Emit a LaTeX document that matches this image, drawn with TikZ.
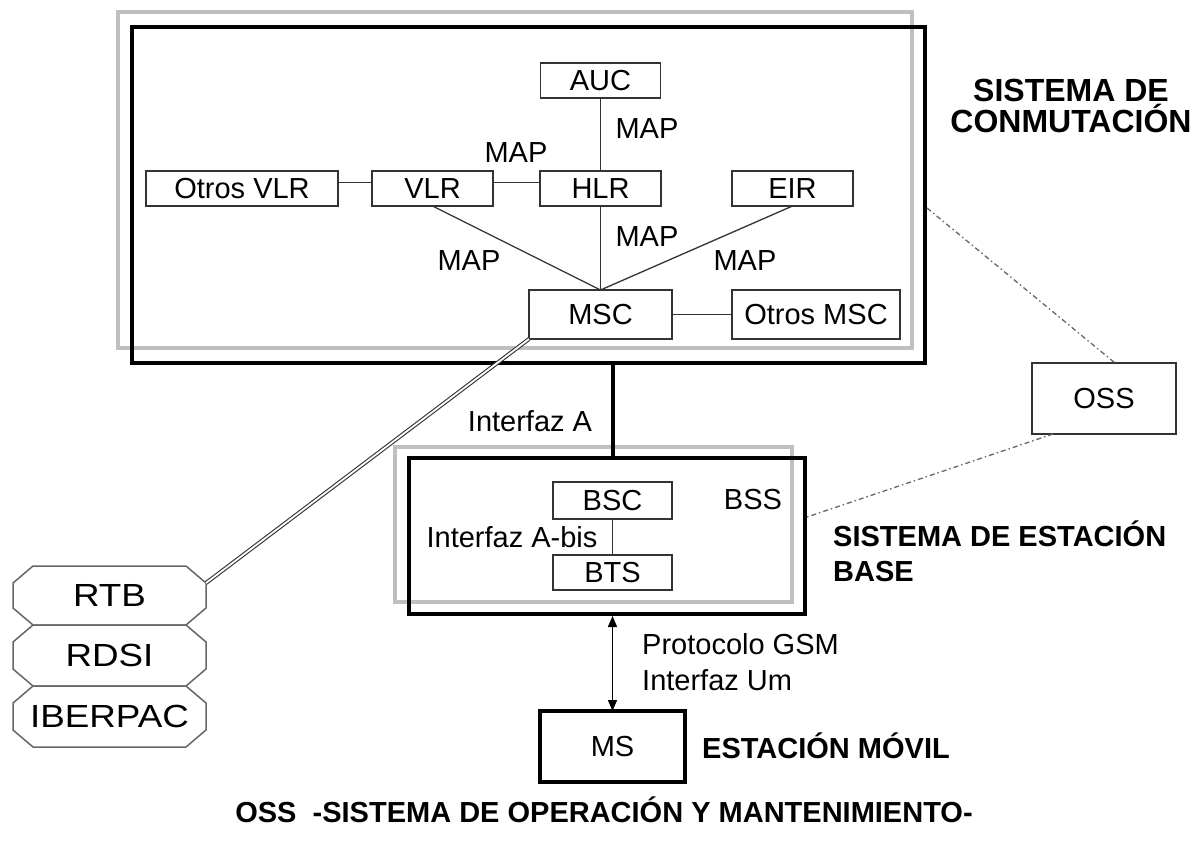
\documentclass[tikz,border=0pt]{standalone}
\usepackage{graphicx}
\usepackage{fontspec}
\setmainfont{Liberation Sans}
\usetikzlibrary{calc,positioning,arrows.meta}
\tikzset{
  unit/.style={draw=black!80, fill=white, line width=1.3pt, inner sep=0pt, outer sep=0pt, font=\fontsize{29}{34}\selectfont},
  link/.style={draw=black!80, line width=1.3pt},
  lbl/.style={inner sep=0pt, font=\fontsize{29}{34}\selectfont},
  ttl/.style={inner sep=0pt, font=\fontsize{29}{35}\selectfont\bfseries},
  grayframe/.style={draw=black!25, line width=4pt, inner sep=0pt, outer sep=0pt},
  blackframe/.style={draw=black, line width=4pt, inner sep=0pt},
  net/.style={inner sep=0pt, outer sep=0pt, font=\fontsize{32}{36}\selectfont},
  octo/.style={draw=black!60, line width=1.5pt, line join=round},
  oam/.style={draw=black!60, line width=1.3pt, dash pattern=on 5pt off 3pt on 1.5pt off 3pt},
  dline/.style={draw=black!80, double=white, line width=1.1pt, double distance=1.8pt},
  trunk/.style={draw=black, line width=4pt},
  radio/.style={line width=1.4pt, {Triangle[length=11pt,width=9pt]}-{Triangle[length=11pt,width=9pt]}}
}
\begin{document}
\begin{tikzpicture}[x=1pt,y=-1pt]
  \useasboundingbox (0,0) rectangle (1201,842);
  \node[grayframe, minimum width=794pt, minimum height=336pt] (conmg) at (515,180) {};
  \node[blackframe, minimum width=793pt, minimum height=336pt] (conm) at (528.5,195) {};
  \node[grayframe, minimum width=397pt, minimum height=155pt] (bssg) at (593.5,524.5) {};
  \node[blackframe, minimum width=396pt, minimum height=156pt] (bssf) at (607,536) {};

  \node[unit, minimum width=120pt, minimum height=35pt] (AUC) at (600.5,80.5) {AUC};
  \node[unit, minimum width=121pt, minimum height=35pt] (HLR) at (600.5,188.5) {HLR};
  \node[unit, minimum width=121pt, minimum height=35pt] (VLR) at (432.5,188.5) {VLR};
  \node[unit, minimum width=192pt, minimum height=35pt] (otrosvlr) at (242,188.5) {Otros VLR};
  \node[unit, minimum width=121pt, minimum height=35pt] (EIR) at (792.5,188.5) {EIR};
  \node[unit, minimum width=143pt, minimum height=49pt] (MSC) at (600.5,314.5) {MSC};
  \node[unit, minimum width=168pt, minimum height=49pt] (otrosmsc) at (816,314.5) {Otros MSC};
  \node[unit, minimum width=144pt, minimum height=71pt] (OSS) at (1104,398.5) {OSS};
  \node[unit, minimum width=119pt, minimum height=37pt] (BSC) at (612.5,500.5) {BSC};
  \node[unit, minimum width=119pt, minimum height=35pt] (BTS) at (612.5,572.5) {BTS};
  \node[unit, draw=black, line width=4pt, minimum width=145pt, minimum height=71pt] (MS) at (612.5,746.5) {MS};

  \node[net, minimum width=193pt, minimum height=59pt] (rtb) at (109.5,595.5) {\scalebox{1.15}[1]{RTB}};
  \node[net, minimum width=193pt, minimum height=61pt] (rdsi) at (109.5,655.5) {\scalebox{1.15}[1]{RDSI}};
  \node[net, minimum width=193pt, minimum height=61pt] (iber) at (109.5,716.5) {\scalebox{1.15}[1]{IBERPAC}};
  \foreach \n in {rtb,rdsi,iber}
    \draw[octo] ($(\n.north west)+(20,0)$) -- ($(\n.north east)+(-20,0)$) -- ($(\n.north east)+(0,17)$)
      -- ($(\n.south east)+(0,-17)$) -- ($(\n.south east)+(-20,0)$) -- ($(\n.south west)+(20,0)$)
      -- ($(\n.south west)+(0,-17)$) -- ($(\n.north west)+(0,17)$) -- cycle;

  \draw[link] (AUC.south) -- (HLR.north);
  \draw[link] ([yshift=6pt]otrosvlr.east) -- ([yshift=6pt]VLR.west);
  \draw[link] ([yshift=6pt]VLR.east) -- ([yshift=6pt]HLR.west);
  \draw[link] (VLR.south) -- (MSC.north);
  \draw[link] (HLR.south) -- (MSC.north);
  \draw[link] (EIR.south) -- (MSC.north);
  \draw[link] (MSC.east) -- (otrosmsc.west);
  \draw[link] (BSC.south) -- (BTS.north);
  \draw[trunk] (conm.south -| BSC) -- (bssf.north -| BSC);
  \draw[radio] (bssf.south -| BTS) -- (MS.north);
  \draw[dline] (MSC.south west) -- ($(rtb.north east)+(0,17)$);
  \draw[oam] ([yshift=-13pt]conm.east) -- ([xshift=11pt]OSS.north);
  \draw[oam] ([xshift=-51pt]OSS.south) -- ([yshift=19pt]bssf.east);

  \node[lbl] (mapvh) at (516,153) {MAP};
  \node[lbl] (mapah) at (647,129) {MAP};
  \node[lbl] (maphm) at (647,237) {MAP};
  \node[lbl] (mapvm) at (469,261) {MAP};
  \node[lbl] (mapem) at (745,261) {MAP};
  \node[lbl] (ifa) at (530,421) {Interfaz A};
  \node[lbl] (ifabis) at (512,537) {Interfaz A-bis};
  \node[lbl] (bsslbl) at (753,500) {BSS};
  \node[lbl, anchor=north west, align=left, font=\fontsize{29}{36}\selectfont] (ifum) at (642,633) {Protocolo GSM\\Interfaz Um};

  \node[ttl, anchor=north, align=center, font=\fontsize{32}{31}\selectfont\bfseries] (tconm) at (1071,79) {SISTEMA DE\\CONMUTACIÓN};
  \node[ttl, anchor=north west, align=left] (tbss) at (833,521) {SISTEMA DE ESTACIÓN\\BASE};
  \node[ttl, anchor=base west] (tms) at (702,758) {ESTACIÓN MÓVIL};
  \node[ttl, anchor=base] (toss) at (604,822) {OSS\ \ -SISTEMA DE OPERACIÓN Y MANTENIMIENTO-};
\end{tikzpicture}
\end{document}
